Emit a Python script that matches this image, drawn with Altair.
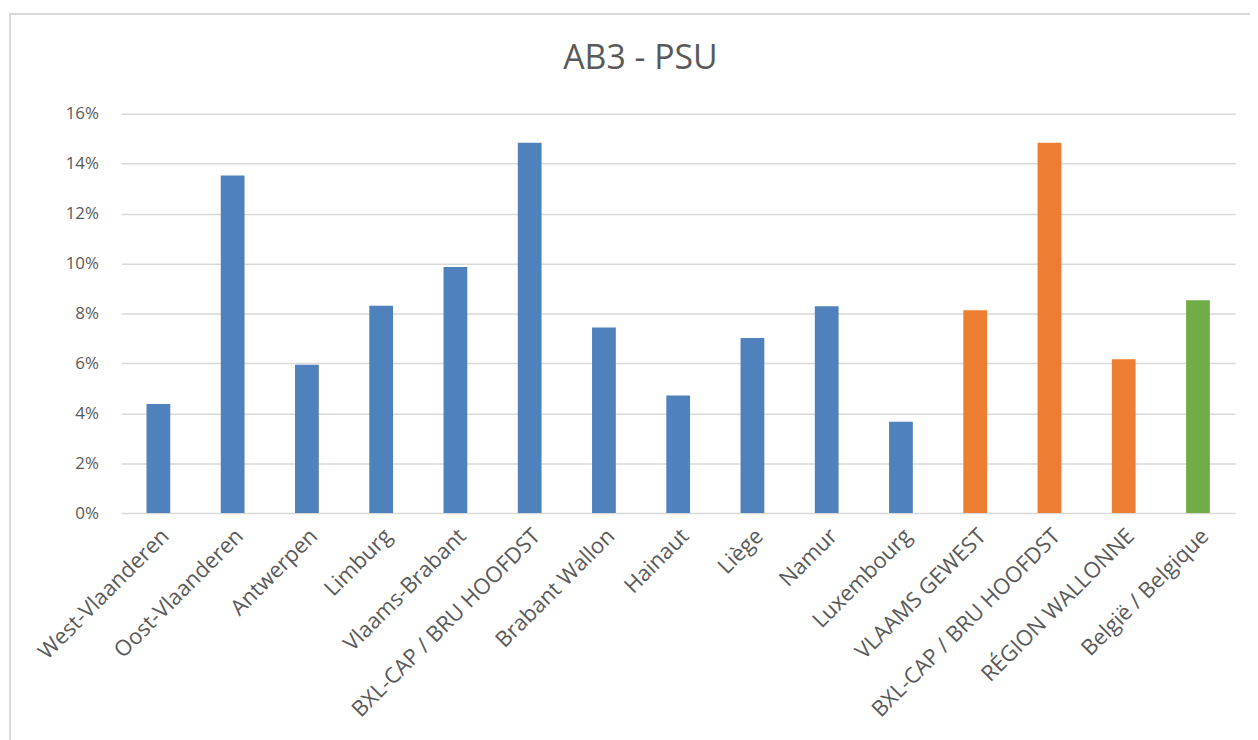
import json
import altair as alt
import pandas as pd

labels = [
    "West-Vlaanderen", "Oost-Vlaanderen", "Antwerpen", "Limburg", "Vlaams-Brabant",
    "BXL-CAP / BRU HOOFDST", "Brabant Wallon", "Hainaut", "Liège", "Namur",
    "Luxembourg", "VLAAMS GEWEST", "BXL-CAP / BRU HOOFDST", "RÉGION WALLONNE",
    "België / Belgique",
]
values = [0.0437, 0.1352, 0.0594, 0.0831, 0.0986, 0.1484, 0.0743, 0.0471, 0.0701,
          0.0829, 0.0366, 0.0813, 0.1484, 0.0616, 0.0853]
levels = ["province"] * 11 + ["region"] * 3 + ["national"]

level_domain = ["province", "region", "national"]
level_colors = ["#4F81BD", "#ED7D31", "#70AD47"]
y_ticks = [0, 0.02, 0.04, 0.06, 0.08, 0.10, 0.12, 0.14, 0.16]

df = pd.DataFrame({
    "key": [str(i) for i in range(len(labels))],
    "value": values,
    "level": levels,
})

W, H = 1121, 402
FONT = "Open Sans"
TXT = "#595959"

label_expr = json.dumps(labels) + "[toNumber(datum.value)]"

bars = alt.Chart(df).mark_bar().encode(
    x=alt.X("key:N", sort=None, title=None,
            scale=alt.Scale(paddingInner=0.68, paddingOuter=0.34),
            axis=alt.Axis(labelExpr=label_expr, labelAngle=-45, labelFontSize=22,
                          labelFont=FONT, labelColor=TXT, domain=False, ticks=False,
                          tickSize=0, labelPadding=12, labelLimit=500, grid=False)),
    y=alt.Y("value:Q", title=None,
            scale=alt.Scale(domain=[0, 0.16], nice=False),
            axis=alt.Axis(values=y_ticks, format=".0%", labelFontSize=17, labelFont=FONT,
                          labelColor=TXT, domain=False, ticks=False, tickSize=0,
                          labelPadding=23, grid=True, gridColor="#D9D9D9",
                          gridWidth=1.5)),
    color=alt.Color("level:N", scale=alt.Scale(domain=level_domain, range=level_colors),
                    legend=None),
)

border = alt.Chart(df).mark_rect(fill=None, stroke="#D9D9D9", strokeWidth=1.5).encode(
    x=alt.value(-112), x2=alt.value(W + 60),
    y=alt.value(-100), y2=alt.value(H + 400),
)

chart = alt.layer(border, bars).properties(
    width=W, height=H,
    title=alt.TitleParams("AB3 - PSU", fontSize=34, font=FONT, color=TXT,
                          fontWeight="normal", anchor="middle", dx=-38,
                          offset=-90, baseline="alphabetic"),
    autosize=alt.AutoSizeParams(type="none"),
    padding={"left": 114, "top": 104, "right": 15, "bottom": 226},
).configure_view(stroke=None)

chart.save("out.html", embed_options={"renderer": "svg", "actions": False})
